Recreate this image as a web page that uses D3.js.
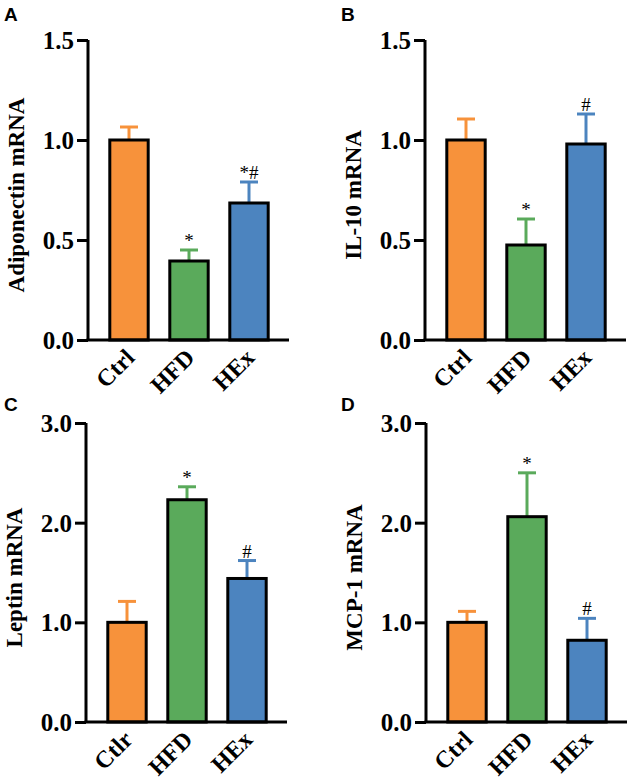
<!DOCTYPE html>
<html>
<head>
<meta charset="utf-8">
<script src="https://cdn.jsdelivr.net/npm/d3@7"></script>
<style>
    body { margin: 0; background: #fff; }
    svg text { font-family: "Liberation Serif", "Times New Roman", serif; font-weight: bold; }
    svg text.letter { font-family: "Liberation Sans", Arial, sans-serif; }
    svg text.mark { font-weight: normal; }
    rect.bar { stroke: #000; stroke-width: 3px; }
</style>
</head>
<body>
<div id="chart"></div>
<script>
// groups and colours
const groupsAB = ['Ctrl', 'HFD', 'HEx'];
const groupsC = ['Ctlr', 'HFD', 'HEx'];
const barColors = ['#F7923B', '#5AAA5B', '#4C84BF'];

// panel values (mean, upper error)
const adiponectin = [1.00, 0.395, 0.685];
const adiponectinErr = [0.065, 0.055, 0.105];
const adiponectinMarks = ['', '*', '*#'];

const il10 = [1.00, 0.475, 0.98];
const il10Err = [0.105, 0.13, 0.15];
const il10Marks = ['', '*', '#'];

const leptin = [1.00, 2.23, 1.44];
const leptinErr = [0.21, 0.13, 0.18];
const leptinMarks = ['', '*', '#'];

const mcp1 = [1.00, 2.06, 0.82];
const mcp1Err = [0.11, 0.44, 0.22];
const mcp1Marks = ['', '*', '#'];

const ticksAB = [0, 0.5, 1.0, 1.5];
const ticksCD = [0, 1.0, 2.0, 3.0];

const panels = [
    { letter: 'A', lx: 4, ly: 21, ax: 88, top: 40, bottom: 340, max: 1.5, ticks: ticksAB,
        title: 'Adiponectin mRNA', cats: groupsAB, values: adiponectin, errs: adiponectinErr, marks: adiponectinMarks },
    { letter: 'B', lx: 341, ly: 21, ax: 425, top: 40, bottom: 340, max: 1.5, ticks: ticksAB,
        title: 'IL-10 mRNA', cats: groupsAB, values: il10, errs: il10Err, marks: il10Marks },
    { letter: 'C', lx: 4, ly: 411, ax: 86, top: 423, bottom: 722, max: 3.0, ticks: ticksCD,
        title: 'Leptin mRNA', cats: groupsC, values: leptin, errs: leptinErr, marks: leptinMarks },
    { letter: 'D', lx: 341, ly: 411, ax: 426, top: 423, bottom: 722, max: 3.0, ticks: ticksCD,
        title: 'MCP-1 mRNA', cats: groupsAB, values: mcp1, errs: mcp1Err, marks: mcp1Marks }
];

const svg = d3.select('#chart').append('svg')
    .attr('width', 630)
    .attr('height', 783);

panels.forEach((p) => {
    const g = svg.append('g');

    // panel letter
    g.append('text')
        .attr('class', 'letter')
        .attr('x', p.lx)
        .attr('y', p.ly)
        .style('font-size', '19px')
        .text(p.letter);

    const y = d3.scaleLinear().domain([0, p.max]).range([p.bottom, p.top]);
    const x = d3.scaleBand()
        .domain(p.cats)
        .range([p.ax + 11, p.ax + 191])
        .paddingInner(0.36)
        .paddingOuter(0.18);
    const cx = (i) => x(p.cats[i]) + x.bandwidth() / 2;

    // error bars (upper only), drawn under the bars so the black top edge stays whole
    p.values.forEach((v, i) => {
        const yt = y(v + p.errs[i]);
        g.append('line')
            .attr('x1', cx(i)).attr('x2', cx(i))
            .attr('y1', y(v)).attr('y2', yt)
            .style('stroke', barColors[i]).style('stroke-width', '3px');
        g.append('line')
            .attr('x1', cx(i) - 9).attr('x2', cx(i) + 9)
            .attr('y1', yt).attr('y2', yt)
            .style('stroke', barColors[i]).style('stroke-width', '3px');
        if (p.marks[i]) {
            g.append('text')
                .attr('class', 'mark')
                .attr('x', cx(i))
                .attr('y', yt - 3)
                .attr('text-anchor', 'middle')
                .style('font-size', '19px')
                .text(p.marks[i]);
        }
    });

    // bars
    g.selectAll('rect.bar')
        .data(p.values).enter()
        .append('rect')
        .attr('class', 'bar')
        .attr('x', (d, i) => x(p.cats[i]))
        .attr('y', (d) => y(d))
        .attr('width', x.bandwidth())
        .attr('height', (d) => y(0) - y(d))
        .style('fill', (d, i) => barColors[i]);

    // y axis
    const yAxis = g.append('g')
        .attr('transform', `translate(${p.ax},0)`)
        .call(d3.axisLeft(y).tickValues(p.ticks).tickFormat(d3.format('.1f')).tickSize(11).tickPadding(3));
    yAxis.select('.domain').style('stroke', '#000').style('stroke-width', '3px')
        .attr('d', `M0,${p.top}V${p.bottom}`);
    yAxis.selectAll('.tick line').style('stroke', '#000').style('stroke-width', '3px');
    yAxis.selectAll('.tick text')
        .style('fill', '#000')
        .style('font-size', '25px')
        .attr('dy', '0.34em');

    // x axis baseline
    g.append('line')
        .attr('x1', p.ax - 1.5).attr('x2', p.ax + 201)
        .attr('y1', p.bottom).attr('y2', p.bottom)
        .style('stroke', '#000').style('stroke-width', '3px');

    // category labels rotated
    g.selectAll('text.cat')
        .data(p.cats).enter()
        .append('text')
        .attr('class', 'cat')
        .attr('text-anchor', 'end')
        .style('font-size', '24px')
        .attr('transform', (d) => `translate(${x(d) + x.bandwidth() / 2 + 7},${p.bottom + 19}) rotate(-45)`)
        .text((d) => d);

    // y axis title
    g.append('text')
        .attr('text-anchor', 'middle')
        .style('font-size', '23px')
        .attr('transform', `translate(${p.ax - 64},${(p.top + p.bottom) / 2 + 5}) rotate(-90)`)
        .text(p.title);
});
</script>
</body>
</html>
